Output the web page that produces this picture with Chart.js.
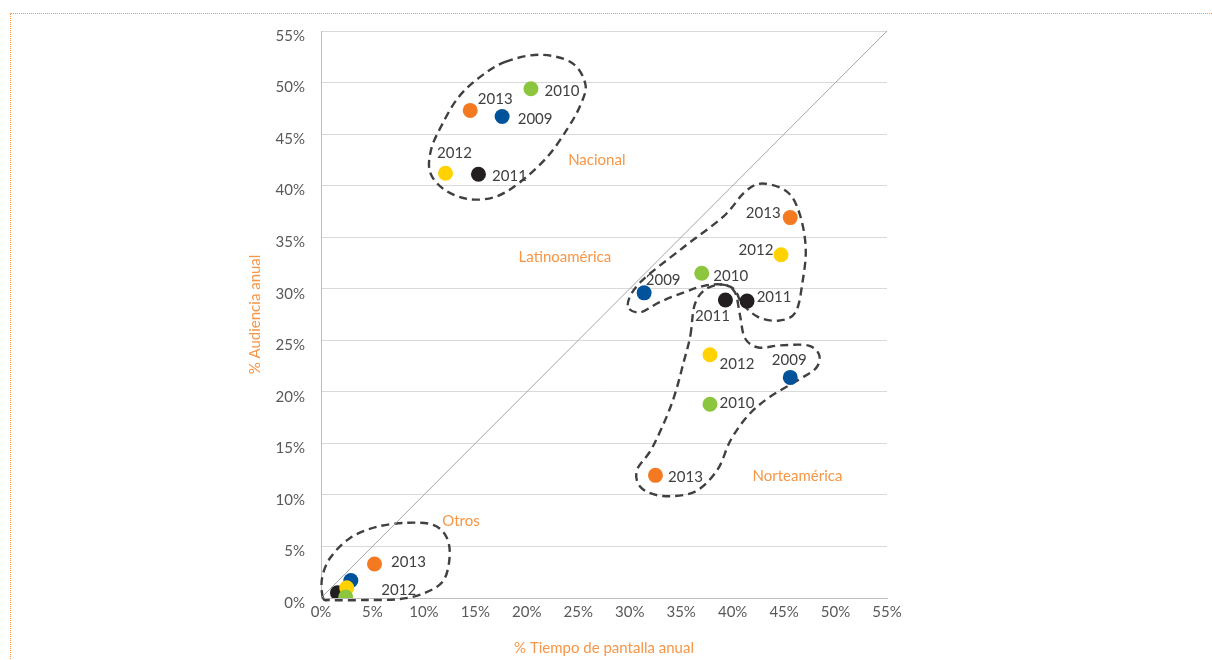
<!DOCTYPE html>
<html lang="es">
<head>
<meta charset="utf-8">
<title>Audiencia vs tiempo de pantalla</title>
<script src="https://cdn.jsdelivr.net/npm/chart.js@4.4.1/dist/chart.umd.min.js"></script>
<style>
  html, body { margin: 0; padding: 0; background: #fff; overflow: hidden; }
  .frame {
    position: absolute; left: 10px; top: 13px;
    width: 1400px; height: 900px;
    border: 1px dotted #F79646;
  }
  .wrap { position: absolute; left: 0; top: 0; width: 1212px; height: 660px; }
</style>
</head>
<body>
<div class="frame"></div>
<div class="wrap"><canvas id="chart"></canvas></div>
<script>
    // Years in the same order as every x/y array below
    const years = ['2009', '2010', '2011', '2012', '2013'];
    const yearColors = ['#00529B', '#8CC63F', '#231F20', '#FFD200', '#F37A21'];

    // % tiempo de pantalla (x) and % audiencia (y) per origin
    const nacionalX = [17.6, 20.4, 15.3, 12.1, 14.5];
    const nacionalY = [46.7, 49.4, 41.1, 41.2, 47.3];
    const latinoX = [31.4, 37.0, 41.4, 44.7, 45.6];
    const latinoY = [29.6, 31.5, 28.8, 33.3, 36.9];
    const norteX = [45.6, 37.8, 39.3, 37.8, 32.5];
    const norteY = [21.4, 18.8, 28.9, 23.6, 11.9];
    const otrosX = [2.9, 2.4, 1.6, 2.5, 5.2];
    const otrosY = [1.7, 0.1, 0.5, 1.0, 3.3];

    const axisTicks = [0, 5, 10, 15, 20, 25, 30, 35, 40, 45, 50, 55];

    // Group names and where they sit (axis units)
    const groupNames = ['Nacional', 'Latinoamérica', 'Norteamérica', 'Otros'];
    const groupNameX = [26.8, 23.7, 46.3, 13.6];
    const groupNameY = [42.5, 33.1, 11.8, 7.5];

    // Dashed outline around each group (axis units, closed loop)
    const nacionalOutline = [
      [17.9, 52.0], [21.3, 52.7], [24.4, 51.9], [25.7, 49.8], [25.2, 47.8], [24.0, 45.6],
      [22.0, 42.8], [19.3, 40.3], [16.9, 38.9], [14.3, 38.7], [12.0, 39.6], [10.6, 41.3],
      [10.7, 43.5], [11.7, 45.8], [13.3, 48.5], [15.4, 50.5]
    ];
    const latinoOutline = [
      [29.8, 28.4], [31.0, 30.6], [35.2, 34.0], [39.1, 37.0], [41.2, 39.4], [42.9, 40.2],
      [45.3, 39.4], [46.5, 37.3], [47.1, 34.0], [46.8, 30.7], [46.1, 27.7], [44.4, 26.9],
      [42.4, 27.3], [40.9, 28.6], [40.2, 29.9], [39.0, 30.4], [37.3, 30.3], [35.4, 29.7],
      [32.9, 28.7], [31.0, 27.7]
    ];
    const norteOutline = [
      [35.9, 25.5], [36.3, 28.4], [37.3, 29.9], [39.0, 30.4], [40.2, 29.7], [40.7, 27.5],
      [41.2, 25.2], [42.5, 24.3], [44.6, 24.5], [47.3, 24.5], [48.4, 23.6], [48.1, 22.3],
      [46.3, 21.1], [43.6, 19.5], [41.5, 17.7], [39.8, 15.3], [38.5, 12.4], [36.3, 10.3],
      [33.2, 9.9], [31.1, 10.7], [30.7, 12.4], [32.2, 14.6], [34.1, 18.9], [35.3, 23.1]
    ];
    const otrosOutline = [
      [0.2, 0.0], [0.1, 1.9], [0.9, 3.9], [2.8, 5.8], [5.4, 6.9], [8.4, 7.3], [10.9, 7.1],
      [12.2, 5.9], [12.5, 4.0], [11.9, 1.7], [10.1, 0.5], [7.7, -0.1], [4.3, -0.2], [0.9, -0.2]
    ];

    const regions = [
      { xs: nacionalX, ys: nacionalY, outline: nacionalOutline },
      { xs: latinoX, ys: latinoY, outline: latinoOutline },
      { xs: norteX, ys: norteY, outline: norteOutline },
      { xs: otrosX, ys: otrosY, outline: otrosOutline }
    ];

    // Pixel offset of each year label from its dot, per region (null = no label)
    const labelOffsets = [
      [[33, 3], [31, 2], [31, 2], [9, -20], [25, -11]],
      [[19, -13], [29, 3], [27, -4], [-25, -5], [-27, -4]],
      [[-1, -17], [27, -1], [-13, 16], [27, 9], [30, 2]],
      [null, null, null, [52, 2], [34, -2]]
    ];

    const FONT = 'Lato, "Open Sans", sans-serif';
    const ORANGE = '#F79646';

    // One dataset per year, drawn so that 2009 ends up at the bottom
    const drawOrder = [4, 1, 3, 2, 0];
    const pointSets = drawOrder.map(i => ({
      type: 'scatter',
      label: years[i],
      data: regions.map(r => ({ x: r.xs[i], y: r.ys[i] })),
      backgroundColor: yearColors[i],
      borderColor: yearColors[i],
      borderWidth: 0,
      pointRadius: 7.5,
      pointHoverRadius: 7.5
    }));

    const diagonal = {
      type: 'line',
      label: 'diagonal',
      data: [{ x: 0, y: 0 }, { x: 55, y: 55 }],
      borderColor: '#A6A6A6',
      borderWidth: 1,
      pointRadius: 0,
      fill: false
    };

    function closedCurve(ctx, pts) {
      const n = pts.length;
      ctx.beginPath();
      ctx.moveTo(pts[0][0], pts[0][1]);
      for (let i = 0; i < n; i++) {
        const p0 = pts[(i - 1 + n) % n], p1 = pts[i];
        const p2 = pts[(i + 1) % n], p3 = pts[(i + 2) % n];
        const c1x = p1[0] + (p2[0] - p0[0]) / 6, c1y = p1[1] + (p2[1] - p0[1]) / 6;
        const c2x = p2[0] - (p3[0] - p1[0]) / 6, c2y = p2[1] - (p3[1] - p1[1]) / 6;
        ctx.bezierCurveTo(c1x, c1y, c2x, c2y, p2[0], p2[1]);
      }
      ctx.closePath();
    }

    const groupDecor = {
      id: 'groupDecor',
      beforeDatasetsDraw(chart) {
        const { ctx, scales: { x, y } } = chart;
        ctx.save();
        ctx.strokeStyle = '#404040';
        ctx.lineWidth = 2.4;
        ctx.setLineDash([8, 5]);
        regions.forEach(r => {
          const pts = r.outline.map(p => [x.getPixelForValue(p[0]), y.getPixelForValue(p[1])]);
          closedCurve(ctx, pts);
          ctx.stroke();
        });
        ctx.restore();
      },
      afterDatasetsDraw(chart) {
        const { ctx, scales: { x, y } } = chart;
        ctx.save();
        ctx.textAlign = 'center';
        ctx.textBaseline = 'middle';
        ctx.font = '15px ' + FONT;
        ctx.fillStyle = '#404040';
        regions.forEach((r, ri) => {
          years.forEach((yr, i) => {
            const off = labelOffsets[ri][i];
            if (!off) return;
            const px = x.getPixelForValue(r.xs[i]) + off[0];
            const py = y.getPixelForValue(r.ys[i]) + off[1];
            ctx.fillText(yr, px, py);
          });
        });
        ctx.font = '15px ' + FONT;
        ctx.fillStyle = ORANGE;
        groupNames.forEach((name, i) => {
          ctx.fillText(name, x.getPixelForValue(groupNameX[i]), y.getPixelForValue(groupNameY[i]));
        });
        ctx.restore();
      }
    };

    const ctx = document.getElementById('chart').getContext('2d');
    new Chart(ctx, {
      type: 'scatter',
      data: { datasets: [...pointSets, diagonal] },
      options: {
        responsive: true,
        maintainAspectRatio: false,
        animation: false,
        layout: { padding: { left: 246, right: 325, top: 31, bottom: 0 } },
        scales: {
          x: {
            type: 'linear',
            min: 0,
            max: 55,
            afterBuildTicks: s => { s.ticks = axisTicks.map(v => ({ value: v })); },
            afterFit: s => { s.height = 62; },
            ticks: {
              color: '#595959',
              font: { family: FONT, size: 15 },
              padding: 5,
              callback: v => v + '%'
            },
            grid: { display: false, drawTicks: false },
            border: { display: true, color: '#BFBFBF', width: 1 },
            title: {
              display: true,
              text: '% Tiempo de pantalla anual',
              color: ORANGE,
              font: { family: FONT, size: 15 },
              padding: { top: 0, bottom: 3 }
            }
          },
          y: {
            type: 'linear',
            min: 0,
            max: 55,
            afterBuildTicks: s => { s.ticks = axisTicks.map(v => ({ value: v })); },
            afterFit: s => { s.width = 75; },
            ticks: {
              color: '#595959',
              font: { family: FONT, size: 15 },
              padding: 16,
              labelOffset: 5,
              callback: v => v + '%'
            },
            grid: { color: '#D9D9D9', lineWidth: 1, drawTicks: false },
            border: { display: true, color: '#BFBFBF', width: 1 },
            title: {
              display: true,
              text: '% Audiencia anual',
              color: ORANGE,
              font: { family: FONT, size: 15 },
              padding: { top: 0, bottom: 0 }
            }
          }
        },
        plugins: {
          legend: { display: false },
          tooltip: { enabled: false }
        }
      },
      plugins: [groupDecor]
    });
</script>
</body>
</html>
